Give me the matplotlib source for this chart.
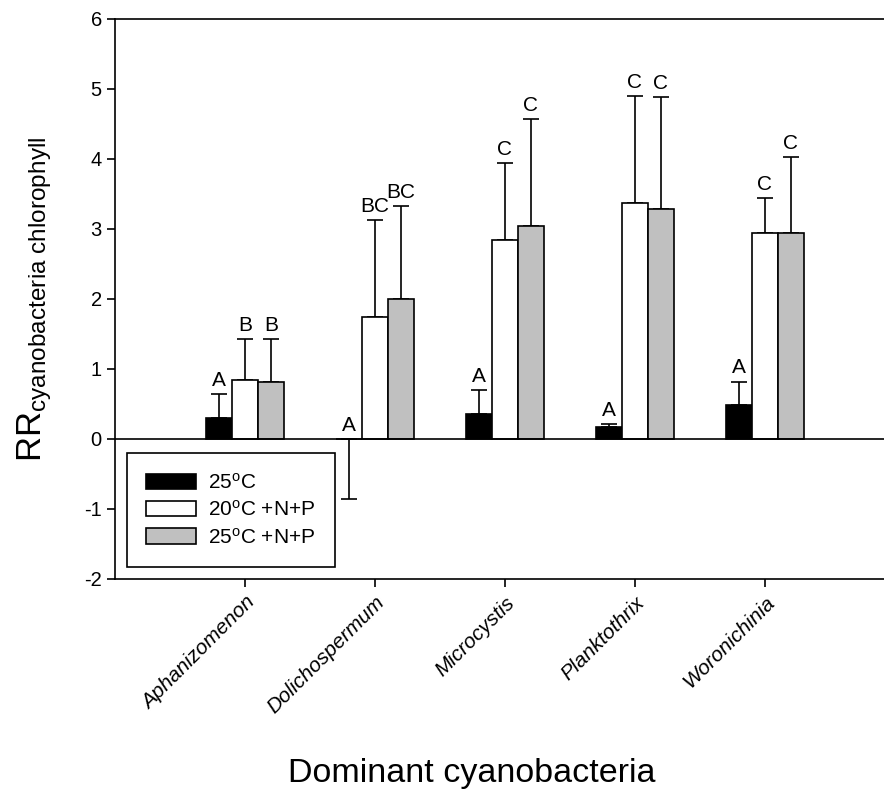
import matplotlib
matplotlib.use('Agg')
import matplotlib.pyplot as plt
import numpy as np

plt.rcParams['font.family'] = ['Liberation Sans', 'DejaVu Sans']
plt.rcParams['mathtext.fontset'] = 'custom'
plt.rcParams['mathtext.rm'] = 'Liberation Sans'
plt.rcParams['mathtext.it'] = 'Liberation Sans:italic'
plt.rcParams['axes.unicode_minus'] = False

# data
taxa = ['Aphanizomenon', 'Dolichospermum', 'Microcystis', 'Planktothrix', 'Woronichinia']
labels = [r'25$^{\mathrm{o}}$C', r'20$^{\mathrm{o}}$C +N+P', r'25$^{\mathrm{o}}$C +N+P']
colors = ['black', 'white', '#c0c0c0']

rr_25 = [0.30, 0.0, 0.36, 0.17, 0.48]
rr_20np = [0.84, 1.74, 2.84, 3.37, 2.95]
rr_25np = [0.82, 2.00, 3.04, 3.29, 2.95]

se_25 = [0.34, 0.85, 0.34, 0.04, 0.34]
se_20np = [0.59, 1.39, 1.10, 1.53, 0.49]
se_25np = [0.61, 1.33, 1.53, 1.59, 1.08]

let_25 = ['A', 'A', 'A', 'A', 'A']
let_20np = ['B', 'BC', 'C', 'C', 'C']
let_25np = ['B', 'BC', 'C', 'C', 'C']

means = [rr_25, rr_20np, rr_25np]
errs = [se_25, se_20np, se_25np]
letters = [let_25, let_20np, let_25np]

fig = plt.figure(figsize=(8.84, 7.95), dpi=100)
ax = fig.add_axes([115/884, 1 - 579/795, 780/884, 560/795])

x = np.arange(len(taxa))
w = 0.2
for k in range(3):
    xs = x + (k - 1) * w
    m = np.array(means[k])
    e = np.array(errs[k])
    ax.bar(xs, m, width=w, color=colors[k], edgecolor='black', linewidth=1.2,
           label=labels[k], zorder=3)
    # one-sided error bars: up for positive means, down otherwise
    lo = np.where(m <= 0, e, 0)
    hi = np.where(m <= 0, 0, e)
    ax.errorbar(xs, m, yerr=[lo, hi], fmt='none', ecolor='black',
                elinewidth=1.2, capsize=6, capthick=1.2, zorder=2)
    for xi, mi, ei, t in zip(xs, m, e, letters[k]):
        top = mi + ei if mi > 0 else 0
        ax.annotate(t, (xi, top), xytext=(0, 3), textcoords='offset points',
                    ha='center', va='bottom', fontsize=15)

ax.axhline(0, color='black', linewidth=1.2, zorder=4)

ax.set_xlim(-1, 5)
ax.set_ylim(-2, 6)
ax.set_yticks(np.arange(-2, 7, 1))
ax.set_xticks(x)
ax.set_xticklabels(taxa, rotation=45, ha='right', va='top',
                   rotation_mode='anchor', fontstyle='italic', fontsize=15)
ax.tick_params(axis='y', direction='out', length=6, width=1.2, labelsize=14.5)
ax.tick_params(axis='x', direction='out', length=6, width=1.2, pad=4)
for s in ax.spines.values():
    s.set_linewidth(1.2)

ax.set_xlabel('Dominant cyanobacteria', fontsize=24.5, labelpad=29)
ax.xaxis.label.set_x(0.458)
ax.set_ylabel(r'RR$_{\mathrm{cyanobacteria\ chlorophyll}}$', fontsize=25, labelpad=22)

leg = ax.legend(loc='upper left', bbox_to_anchor=(0.015, 0.225), borderaxespad=0,
                fontsize=15, frameon=True, fancybox=False, edgecolor='black',
                handlelength=2.4, handleheight=0.75, handletextpad=0.55,
                borderpad=0.95, labelspacing=0.35)
leg.get_frame().set_linewidth(1.2)
leg.get_frame().set_alpha(1)

fig.savefig('out.png', dpi=100)
